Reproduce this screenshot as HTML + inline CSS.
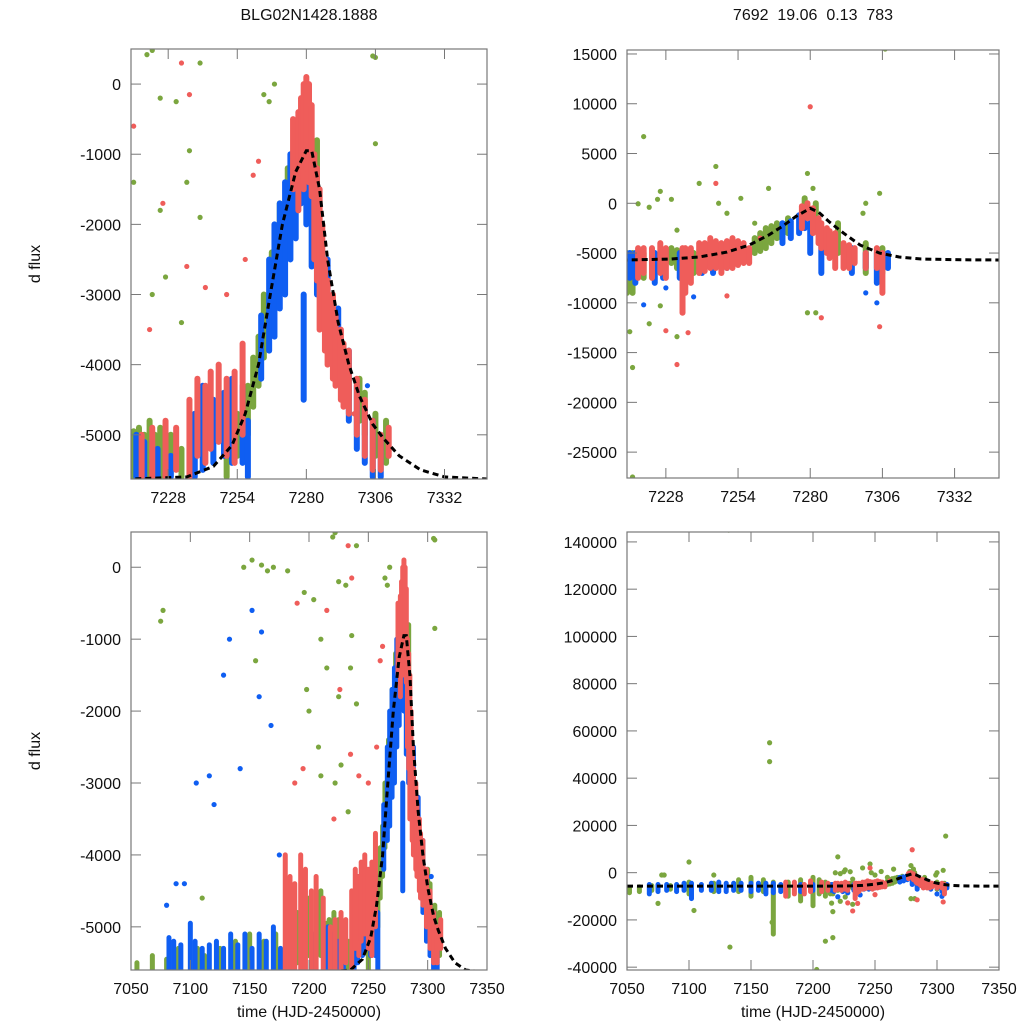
<!DOCTYPE html>
<html><head><meta charset="utf-8"><style>
body{margin:0;background:#fff}
svg{display:block;font-family:"Liberation Sans",Arial,sans-serif}
</style></head><body>
<svg id="chart" width="1024" height="1024" viewBox="0 0 1024 1024"></svg>
<script>
// ---------- data ----------
// Dataset A: d flux (top-left & bottom-left). Nightly ranges [t, lo, hi]
const greenRangesA=[[7055,-5600,-5500],[7068,-5600,-5400],[7080,-5600,-5450],[7090,-5600,-5300],[7106,-5600,-5300],[7112,-5600,-5400],[7125,-5600,-5300],[7138,-5600,-5200],[7150,-5600,-5100],[7162,-5600,-5200],[7172,-5600,-5100],[7190,-5500,-4800],[7200,-5400,-4600],[7210,-5400,-4500],[7215,-5600,-4950],[7217,-5600,-4900],[7219,-5600,-5000],[7221,-5600,-4800],[7223,-5600,-5000],[7225,-5600,-4900],[7227,-5500,-5100],[7229,-5500,-5000],[7233,-5600,-5200],[7250,-5600,-4900],[7254,-5300,-4700],[7258,-5000,-4300],[7260,-4600,-3900],[7262,-4300,-3600],[7264,-3900,-3000],[7267,-3200,-2400],[7270,-2700,-1700],[7273,-2200,-1200],[7276,-1600,-800],[7279,-900,-400],[7281,-800,-300],[7284,-1500,-800],[7296,-4500,-3900],[7300,-4800,-4200],[7302,-5000,-4400],[7306,-5300,-4700],[7310,-5400,-4800]];
const blueRangesA=[[7082,-5600,-5150],[7086,-5600,-5200],[7092,-5600,-5250],[7100,-5600,-4950],[7104,-5600,-5200],[7110,-5600,-5300],[7116,-5600,-5250],[7122,-5600,-5200],[7128,-5600,-5300],[7134,-5600,-5100],[7140,-5600,-5250],[7146,-5600,-5100],[7152,-5600,-5300],[7158,-5600,-5100],[7164,-5600,-5200],[7170,-5600,-5000],[7176,-5600,-5300],[7185,-5600,-5200],[7195,-5600,-5000],[7205,-5600,-5100],[7216,-5600,-5000],[7219,-5600,-5100],[7224,-5600,-5200],[7229,-5600,-5300],[7238,-5600,-4700],[7241,-5500,-4300],[7245,-5400,-4500],[7249,-5300,-4400],[7252,-5400,-4200],[7256,-5400,-4300],[7258,-5600,-4800],[7263,-4200,-3300],[7266,-3800,-2500],[7268,-3600,-2000],[7270,-3200,-1700],[7272,-3000,-1400],[7274,-2500,-1000],[7276,-2200,-900],[7278,-1700,-900],[7279,-4500,-3000],[7280,-2000,-900],[7282,-2600,-1000],[7284,-3000,-2000],[7288,-3500,-2500],[7292,-4200,-3200],[7296,-4800,-3800],[7299,-5200,-4300],[7302,-5400,-4600],[7305,-5600,-4800],[7308,-5600,-5000]];
const redRangesA=[[7180,-5600,-4000],[7184,-5600,-4300],[7188,-5600,-4400],[7193,-5600,-4000],[7197,-5600,-4200],[7202,-5600,-4500],[7206,-5600,-4300],[7212,-5600,-4600],[7218,-5600,-5000],[7222,-5600,-4900],[7227,-5600,-4800],[7231,-5500,-4900],[7236,-5600,-4500],[7239,-5300,-4200],[7242,-5400,-4300],[7244,-5200,-4100],[7247,-5100,-4000],[7250,-5300,-4200],[7253,-5400,-4100],[7256,-5000,-3700],[7275,-1500,-500],[7277,-1800,-400],[7278,-1300,-200],[7279,-1500,0],[7280,-1200,100],[7281,-1400,0],[7282,-1600,-300],[7283,-2500,-1000],[7284,-2800,-1200],[7285,-3500,-1500],[7286,-3200,-2000],[7287,-3800,-2500],[7288,-4000,-2800],[7290,-4200,-3000],[7291,-4300,-3300],[7293,-4500,-3500],[7294,-4600,-3700],[7296,-4700,-3800],[7299,-5000,-4200],[7302,-5300,-4500],[7305,-5500,-4800],[7308,-5500,-5000],[7311,-5300,-4900]];
const greenPtsA=[[7222,480],[7225,-200],[7220,420],[7231,-250],[7236,-950],[7268,0],[7227,-2750],[7233,-3400],[7264,-150],[7266,-250],[7305,400],[7306,380],[7306,-850],[7077,-600],[7075,-750],[7110,-4600],[7145,0],[7152,100],[7160,30],[7165,-50],[7170,0],[7182,-50],[7196,-350],[7204,-450],[7210,-1000],[7215,-1400],[7200,-2000],[7222,-3000],[7240,300],[7210,-2900],[7155,-1300],[7198,-1700],[7208,-2500],[7235,-1400],[7240,-1900],[7225,-1800]];
const bluePtsA=[[7080,-4700],[7088,-4400],[7095,-4400],[7105,-3000],[7116,-2900],[7120,-3300],[7128,-1500],[7133,-1000],[7152,-600],[7158,-1800],[7142,-2800],[7160,-900],[7168,-2200],[7175,-4000],[7303,-4300],[7295,-3900]];
const redPtsA=[[7233,300],[7236,-150],[7221,-3500],[7262,-1100],[7260,-1300],[7290,-3200],[7298,-4700],[7188,-3000],[7190,-500],[7195,-2800],[7215,-600],[7226,-1700],[7235,-2600],[7242,-2900],[7250,-3000],[7257,-2500]];
const modelTA=[7050,7214,7235,7245,7252,7257,7262,7266,7271,7276,7280,7282,7285,7288,7292,7296,7300,7305,7309,7315,7323,7332,7348];
const modelFA=[-5630,-5630,-5600,-5450,-5150,-4700,-4000,-3100,-2000,-1250,-950,-950,-1500,-2500,-3400,-4000,-4450,-4850,-5050,-5300,-5500,-5600,-5630];

// Dataset B (top-right & bottom-right)
const greenRangesB=[[7052,-8500,-6500],[7060,-8000,-6000],[7070,-7500,-5500],[7085,-7000,-5500],[7100,-9000,-4000],[7120,-8000,-4500],[7140,-8000,-3000],[7150,-10000,-2000],[7160,-8000,-3000],[7168,-26000,-4000],[7180,-10000,-4000],[7190,-12000,-3000],[7200,-14000,-2000],[7205,-9000,-3000],[7210,-10000,-4000],[7214,-9000,-5000],[7216,-9000,-5000],[7220,-7500,-5000],[7230,-6000,-4500],[7232,-6500,-4700],[7238,-7000,-5000],[7243,-6000,-4500],[7260,-5000,-3500],[7262,-4800,-3000],[7264,-4500,-2500],[7266,-4000,-2300],[7268,-3500,-2000],[7272,-3000,-1500],[7278,-1500,500],[7282,-2000,0],[7290,-5000,-2000],[7300,-7000,-4000],[7306,-7000,-4500]];
const blueRangesB=[[7068,-9000,-5000],[7075,-8000,-5000],[7082,-7500,-5000],[7090,-8000,-5000],[7096,-7500,-4500],[7102,-11000,-4500],[7110,-7500,-5000],[7118,-7500,-4500],[7124,-8000,-4000],[7130,-8000,-4500],[7136,-7500,-4500],[7142,-7500,-4500],[7150,-8000,-4500],[7156,-7500,-4500],[7162,-9000,-4500],[7168,-8500,-4500],[7174,-8000,-5000],[7190,-8000,-5000],[7200,-7500,-5000],[7215,-7500,-5000],[7217,-8000,-5000],[7224,-8000,-5000],[7227,-7500,-5000],[7233,-7500,-5000],[7241,-7000,-4500],[7245,-7000,-4500],[7250,-6500,-4000],[7253,-6000,-4200],[7270,-4000,-2000],[7273,-3500,-1800],[7276,-3000,-1200],[7278,-2500,-600],[7280,-5000,-2000],[7284,-7000,-3000],[7295,-7000,-4500],[7300,-6500,-5000],[7304,-8000,-5000],[7308,-6500,-5000]];
const redRangesB=[[7178,-10000,-4000],[7185,-9000,-4000],[7193,-9000,-5000],[7198,-8000,-3500],[7207,-8000,-4000],[7212,-7500,-4500],[7218,-7500,-4500],[7220,-7000,-4500],[7223,-7500,-4500],[7226,-7000,-4000],[7228,-7500,-4500],[7234,-11000,-4500],[7235,-9000,-4500],[7237,-8000,-4500],[7240,-7000,-4000],[7242,-6800,-4000],[7244,-6500,-3500],[7246,-6500,-3800],[7248,-7000,-4000],[7250,-6500,-3800],[7252,-6500,-3500],[7254,-6200,-3800],[7256,-6000,-4000],[7258,-6000,-4500],[7277,-2500,-300],[7279,-1500,0],[7281,-3000,-500],[7283,-4000,-1500],[7284,-4500,-2000],[7286,-5000,-2500],[7287,-5500,-2800],[7289,-6500,-3000],[7292,-6500,-4000],[7294,-6500,-4200],[7296,-6000,-4500],[7300,-6500,-5000],[7304,-6500,-4500],[7306,-9000,-5000]];
const greenPtsB=[[7220,6700],[7218,-50],[7222,-400],[7225,400],[7226,1200],[7230,400],[7246,3700],[7247,0],[7250,-1000],[7232,-2700],[7216,-16500],[7215,-12900],[7226,-10300],[7232,-13400],[7222,-12100],[7279,3000],[7281,1500],[7299,-1000],[7300,0],[7305,1000],[7307,15500],[7279,-11000],[7282,-11000],[7260,-2000],[7265,1500],[7255,500],[7100,4500],[7132,145000],[7165,55000],[7165,47000],[7133,-31500],[7167,-21000],[7203,-41000],[7210,-29000],[7078,-1000],[7080,-1000],[7075,-13000],[7104,-16000],[7120,-1000],[7240,2000],[7216,-27500]];
const bluePtsB=[[7220,-10200],[7228,-8500],[7238,-9400],[7300,-9000],[7304,-10000]];
const redPtsB=[[7280,9700],[7228,-12800],[7236,-13000],[7232,-16200],[7250,-9300],[7246,2000],[7305,-12400],[7284,-11500],[7262,-3500]];
const modelTB=[7050,7214,7230,7240,7250,7258,7265,7270,7275,7280,7283,7287,7292,7298,7305,7312,7320,7335,7350];
const modelFB=[-5700,-5700,-5600,-5400,-4900,-4200,-3200,-2300,-1300,-500,-900,-1900,-3000,-4200,-5000,-5400,-5600,-5680,-5700];

// ---------- rendering ----------
const NS='http://www.w3.org/2000/svg';
const svg=document.getElementById('chart');
const COL={g:'#7ba63f',b:'#0f5ef2',r:'#ef5d5a'};
function mk(tag,attrs,parent){const e=document.createElementNS(NS,tag);for(const k in attrs)e.setAttribute(k,attrs[k]);(parent||svg).appendChild(e);return e;}

const panels=[
 {id:'tl',x0:131,x1:487,y0:49,y1:479,tmin:7214,tmax:7348,fmin:-5630,fmax:500,xt:[7228,7254,7280,7306,7332],yt:[0,-1000,-2000,-3000,-4000,-5000],d:'A',ylab:true,sw:6},
 {id:'tr',x0:627,x1:999,y0:50,y1:478,tmin:7214,tmax:7348,fmin:-27600,fmax:15400,xt:[7228,7254,7280,7306,7332],yt:[15000,10000,5000,0,-5000,-10000,-15000,-20000,-25000],d:'B',sw:6},
 {id:'bl',x0:131,x1:487,y0:532,y1:970,tmin:7050,tmax:7350,fmin:-5600,fmax:490,xt:[7050,7100,7150,7200,7250,7300,7350],yt:[0,-1000,-2000,-3000,-4000,-5000],d:'A',ylab:true,xlab:true,sw:5},
 {id:'br',x0:627,x1:999,y0:532,y1:970,tmin:7050,tmax:7350,fmin:-41200,fmax:144200,xt:[7050,7100,7150,7200,7250,7300,7350],yt:[140000,120000,100000,80000,60000,40000,20000,0,-20000,-40000],d:'B',xlab:true,sw:5}
];
const DATA={A:{g:[greenRangesA,greenPtsA],b:[blueRangesA,bluePtsA],r:[redRangesA,redPtsA],mt:modelTA,mf:modelFA},
            B:{g:[greenRangesB,greenPtsB],b:[blueRangesB,bluePtsB],r:[redRangesB,redPtsB],mt:modelTB,mf:modelFB}};

panels.forEach(p=>{
  const sx=t=>p.x0+(t-p.tmin)/(p.tmax-p.tmin)*(p.x1-p.x0);
  const sy=f=>p.y1-(f-p.fmin)/(p.fmax-p.fmin)*(p.y1-p.y0);
  const g=mk('g',{});
  
  
  const cp=mk('clipPath',{id:'clip-'+p.id},g);
  mk('rect',{x:p.x0,y:p.y0,width:p.x1-p.x0,height:p.y1-p.y0},cp);
  const plot=mk('g',{'clip-path':'url(#clip-'+p.id+')'},g);
  
  
  const D=DATA[p.d];
  ['g','b','r'].forEach(c=>{
    const sg=mk('g',{},plot);
    
    
    D[c][0].forEach(([t,lo,hi])=>{
      const l=mk('line',{x1:sx(t),x2:sx(t),y1:sy(lo),y2:sy(hi),stroke:COL[c],'stroke-width':p.sw,'stroke-linecap':'round'},sg);
      
      
    });
    D[c][1].forEach(([t,v])=>{
      const d=mk('circle',{cx:sx(t),cy:sy(v),r:2.6,fill:COL[c]},sg);
      
      
    });
  });
  const pts=D.mt.map((t,i)=>sx(t).toFixed(1)+','+sy(D.mf[i]).toFixed(1)).join(' ');
  const m=mk('polyline',{points:pts,fill:'none',stroke:'#000','stroke-width':3,'stroke-dasharray':'6,4'},plot);
  
  
  const fr=mk('rect',{x:p.x0,y:p.y0,width:p.x1-p.x0,height:p.y1-p.y0,fill:'none',stroke:'#777','stroke-width':1.2},g);
  
  
  p.xt.forEach(t=>{
    const x=sx(t);
    mk('line',{x1:x,x2:x,y1:p.y1,y2:p.y1-10,stroke:'#777'},g);
    mk('line',{x1:x,x2:x,y1:p.y0,y2:p.y0+10,stroke:'#777'},g);
    const tx=mk('text',{x:x,y:p.y1+24,'text-anchor':'middle','font-size':16,fill:'#111'},g);
    tx.textContent=t;
    
    
  });
  p.yt.forEach(v=>{
    const y=sy(v);
    mk('line',{x1:p.x0,x2:p.x0+10,y1:y,y2:y,stroke:'#777'},g);
    mk('line',{x1:p.x1,x2:p.x1-10,y1:y,y2:y,stroke:'#777'},g);
    const tx=mk('text',{x:p.x0-10,y:y+6,'text-anchor':'end','font-size':16,fill:'#111'},g);
    tx.textContent=v;
    
    
  });
  if(p.ylab){
    const cy=(p.y0+p.y1)/2;
    const yl=mk('text',{x:40,y:cy,'text-anchor':'middle','font-size':16,fill:'#111',transform:'rotate(-90 40 '+cy+')'},g);
    yl.textContent='d flux';
    
    
  }
  if(p.xlab){
    const xl=mk('text',{x:(p.x0+p.x1)/2,y:1017,'text-anchor':'middle','font-size':16,fill:'#111'},g);
    xl.textContent='time (HJD-2450000)';
    
    
  }
});
const t1=mk('text',{x:309,y:20,'text-anchor':'middle','font-size':16,fill:'#111'});
t1.textContent='BLG02N1428.1888';


const t2=mk('text',{x:813,y:20,'text-anchor':'middle','font-size':16,fill:'#111',style:'white-space:pre'});
t2.textContent='7692  19.06  0.13  783';


</script>
</body></html>
